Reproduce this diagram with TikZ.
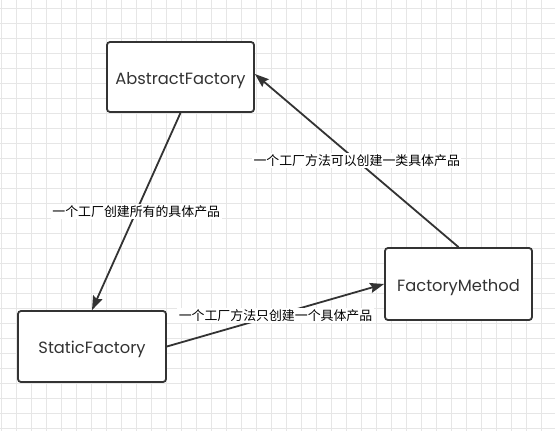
\documentclass[tikz,border=0pt]{standalone}
\usepackage{fontspec}
\setmainfont{Poppins}
\newfontfamily\cjk{Noto Sans CJK SC}
\usetikzlibrary{arrows.meta, positioning, calc}
\definecolor{inkgray}{HTML}{333333}
\definecolor{gridgray}{HTML}{E6E6E6}

\begin{document}
\begin{tikzpicture}[x=1pt, y=-1pt,
  box/.style={draw=inkgray, line width=1.8pt, rounded corners=3pt, fill=white,
    minimum width=147pt, minimum height=70pt, text=inkgray,
    text height=18pt, text depth=4pt,
    font=\fontsize{16.3}{19}\selectfont},
  link/.style={draw=inkgray, line width=1.8pt,
    -{Stealth[length=14pt, width=10pt, inset=2pt]}},
  tag/.style={fill=white, inner sep=1.5pt, text=black,
    font=\cjk\fontsize{12.9}{14}\selectfont}]
\useasboundingbox[fill=white] (0,0) rectangle (555,431);
% background grid
\foreach \gx in {1,16,...,541} \draw[gridgray, line width=0.8pt] (\gx,0) -- (\gx,431);
\foreach \gy in {8,23,...,428} \draw[gridgray, line width=0.8pt] (0,\gy) -- (555,\gy);

\node[box] (abstract) at (180.5,77) {AbstractFactory};
\node[box, minimum width=148pt, minimum height=71pt] (static) at (92,346.5) {StaticFactory};
\node[box, minimum height=72pt] (method) at (458.5,284) {FactoryMethod};

\draw[link] (abstract.south) -- node[tag] {一个工厂创建所有的具体产品} (static.north);
\draw[link] (static.east) -- node[tag] {一个工厂方法只创建一个具体产品} (method.west);
\draw[link] (method.north) -- node[tag] {一个工厂方法可以创建一类具体产品} ([yshift=3pt]abstract.east);
\end{tikzpicture}
\end{document}
